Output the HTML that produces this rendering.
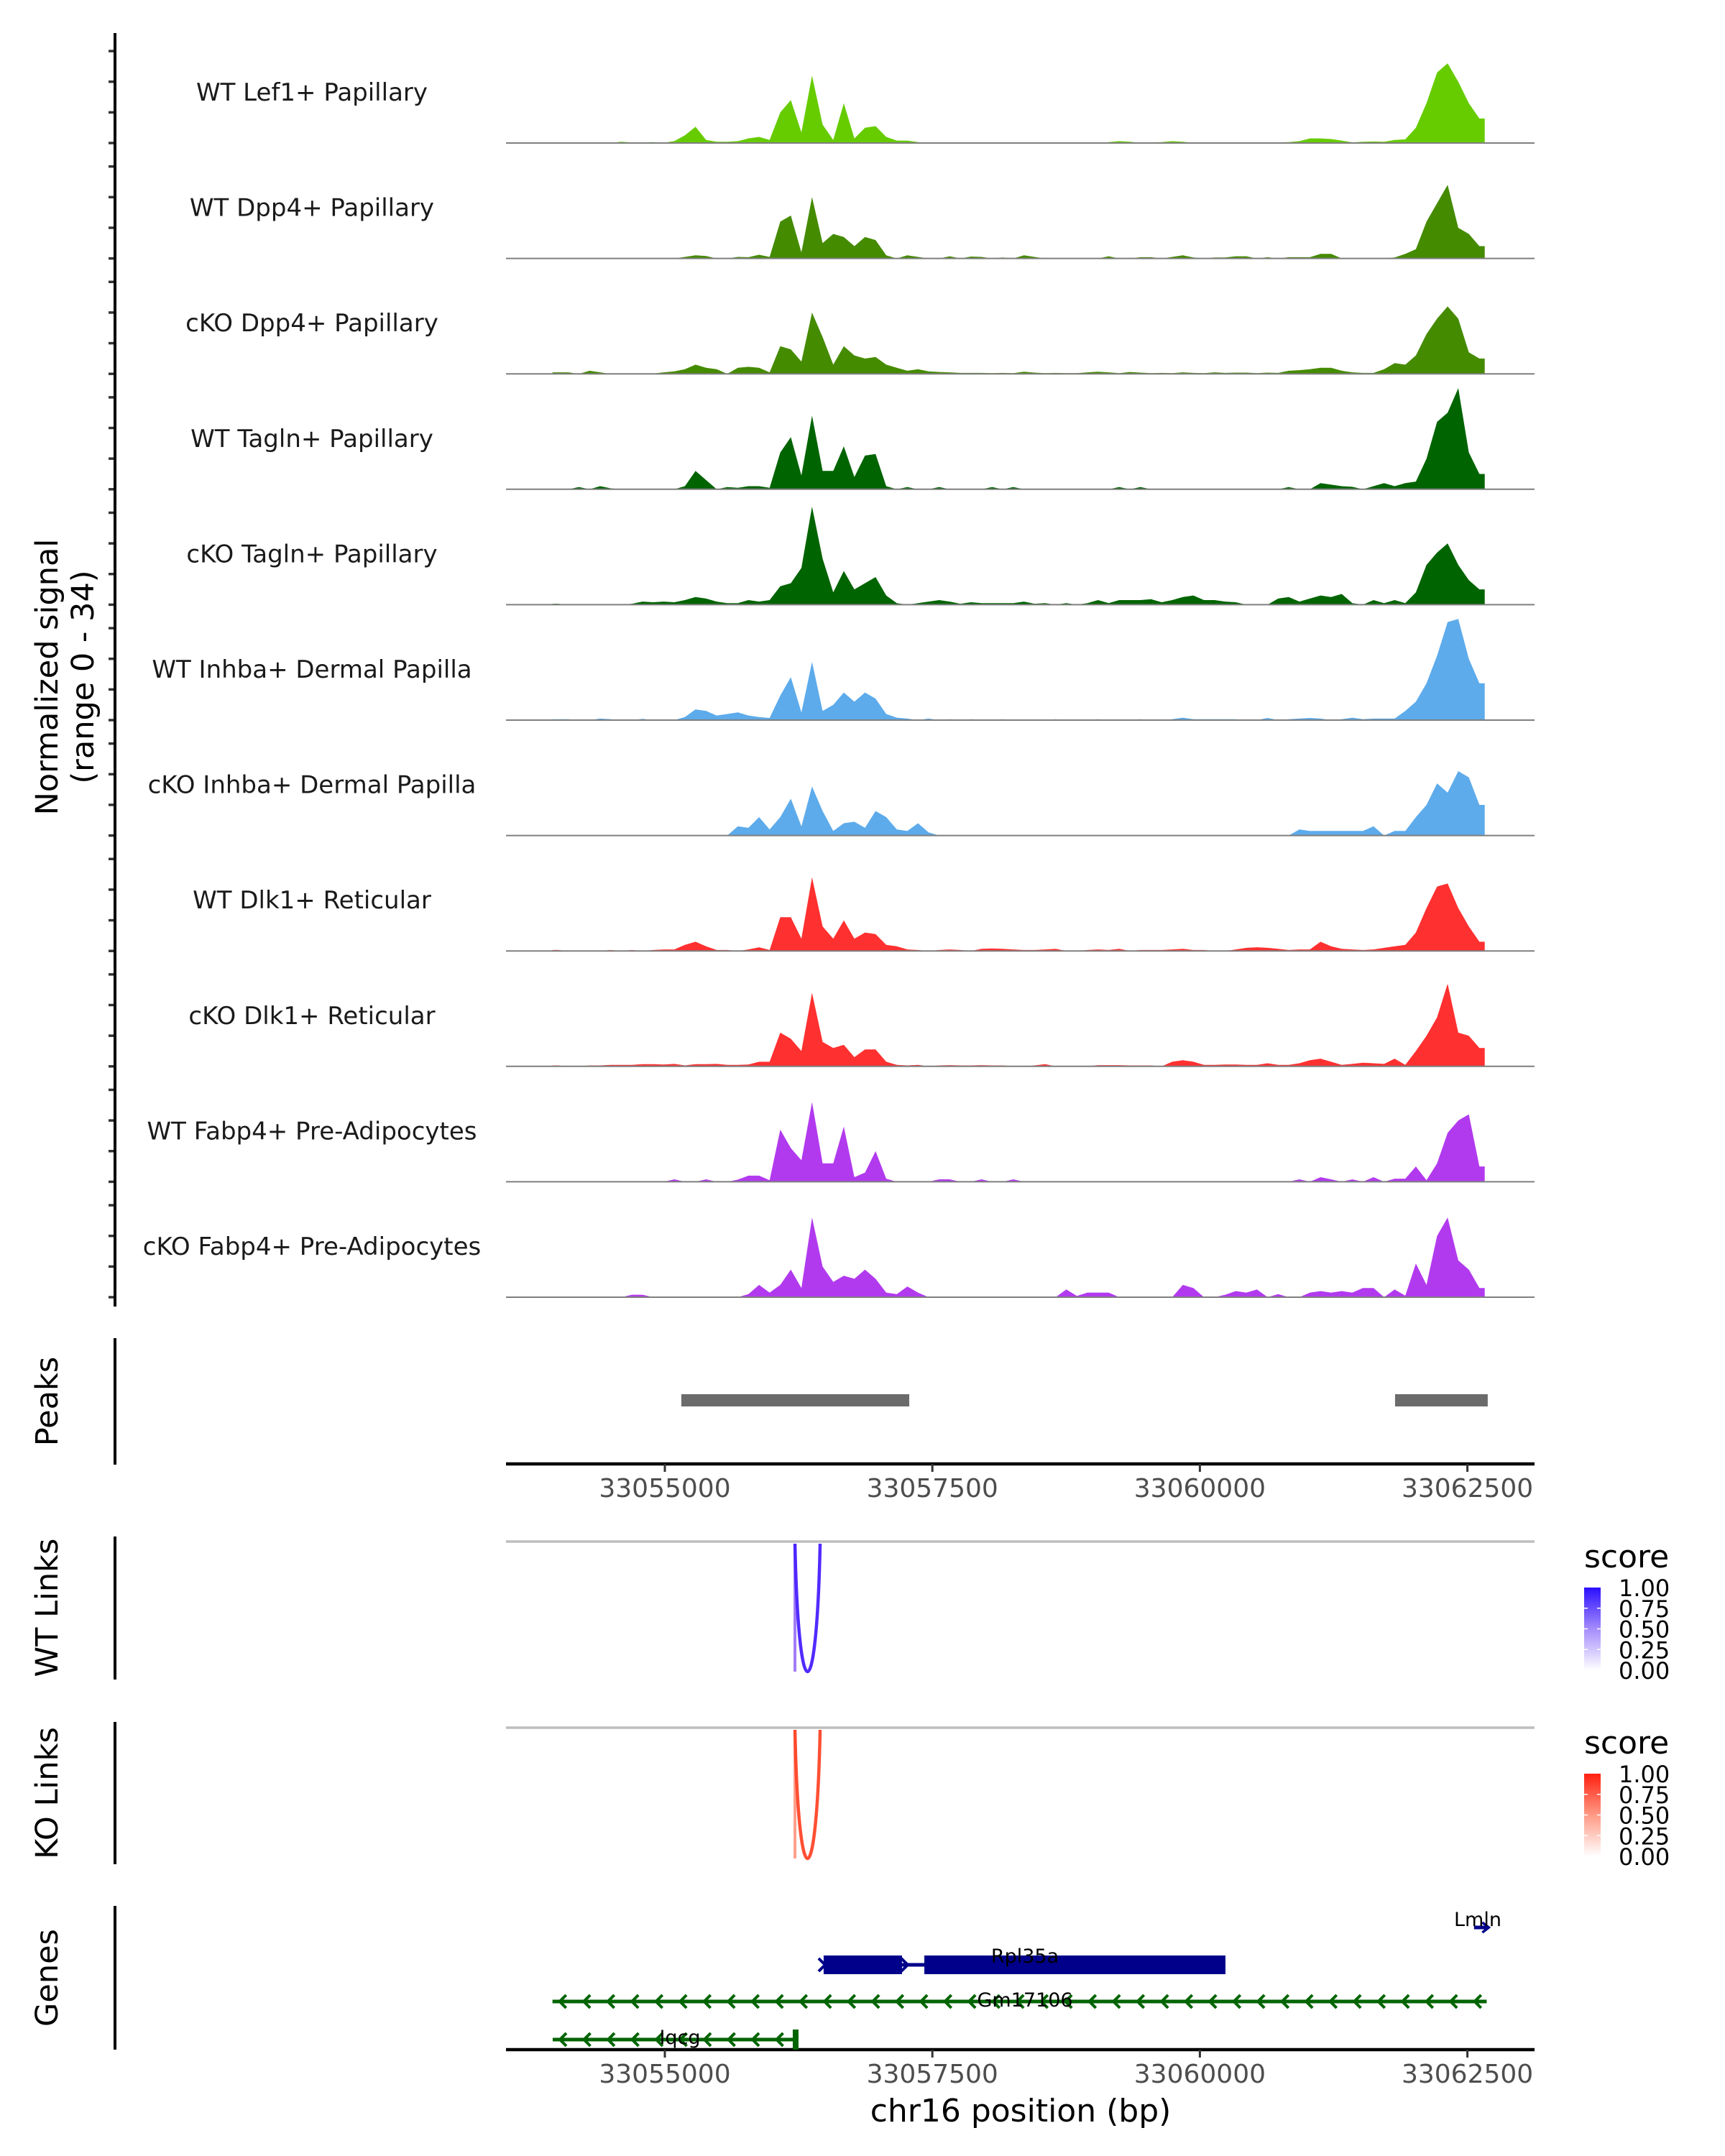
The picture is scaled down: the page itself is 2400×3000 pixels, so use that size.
<!DOCTYPE html>
<html><head><meta charset="utf-8"><style>
html,body{margin:0;padding:0;background:#fff}
svg{display:block;font-family:"DejaVu Sans","Liberation Sans",sans-serif}
</style></head><body>
<svg id="chart" width="2400" height="3000" viewBox="0 0 2400 3000" xmlns="http://www.w3.org/2000/svg">
<g id="tracks"></g>
<g id="axes"></g>
<text transform="translate(80,942) rotate(-90)" text-anchor="middle" font-size="43" fill="#000">Normalized signal</text>
<text transform="translate(130,942) rotate(-90)" text-anchor="middle" font-size="43" fill="#000">(range 0 - 34)</text>
<text transform="translate(80,1950) rotate(-90)" text-anchor="middle" font-size="43" fill="#000">Peaks</text>
<text transform="translate(80,2237) rotate(-90)" text-anchor="middle" font-size="43" fill="#000">WT Links</text>
<text transform="translate(80,2495) rotate(-90)" text-anchor="middle" font-size="43" fill="#000">KO Links</text>
<text transform="translate(80,2752) rotate(-90)" text-anchor="middle" font-size="43" fill="#000">Genes</text>
<text x="1420" y="2952" text-anchor="middle" font-size="44" fill="#000">chr16 position (bp)</text>
<defs>
<linearGradient id="gBlue" x1="0" y1="1" x2="0" y2="0"><stop offset="0" stop-color="#ffffff"/><stop offset="0.5" stop-color="#a48cfb"/><stop offset="1" stop-color="#2b0fff"/></linearGradient>
<linearGradient id="gRed" x1="0" y1="1" x2="0" y2="0"><stop offset="0" stop-color="#ffffff"/><stop offset="0.5" stop-color="#ff9a85"/><stop offset="1" stop-color="#ff2010"/></linearGradient>
</defs>
<g id="legends"></g>
<g id="genes"></g>
</svg>
<script>
// ---- data ----
const trackNames = ["WT Lef1+ Papillary","WT Dpp4+ Papillary","cKO Dpp4+ Papillary","WT Tagln+ Papillary","cKO Tagln+ Papillary","WT Inhba+ Dermal Papilla","cKO Inhba+ Dermal Papilla","WT Dlk1+ Reticular","cKO Dlk1+ Reticular","WT Fabp4+ Pre-Adipocytes","cKO Fabp4+ Pre-Adipocytes"];
const trackColors = ["#66cc00","#458b00","#458b00","#006400","#006400","#5dabeb","#5dabeb","#ff3030","#ff3030","#b23aee","#b23aee"];
const binStart = 33053950;
const binSize = 99;
const sigLef1WT = [.1,.1,.1,.1,.1,.1,.4,.2,.2,.3, .1,.6,2.5,5.3,1,.4,.4,.6,1.5,2, 1,10,14,3.5,22,6,1,13,1.5,5, 5.5,2,.8,.8,.3,.1,.1,.1,.1,.1, .1,.2,.1,.1,.2,.1,.1,.1,.2,.1, .2,.1,.3,.6,.4,.1,.2,.3,.6,.4, .1,.1,.2,.1,.1,.2,.1,.1,.2,.3, .6,1.5,1.5,1.3,.8,.2,.4,.5,.4,1, 1.2,5,13,23,26,20,13,8];
const sigDpp4WT = [0,0,0,0,0,0,0,0,0,0, 0,0,.5,1,.8,0,0,.5,.4,1.2, .5,12,14,2,20,5,8,7,4,7, 6,1,0,1,.5,0,0,.7,0,.6, .5,0,.3,0,1,.5,0,0,0,0, 0,0,.7,0,0,.4,.4,0,.5,1, .3,0,.3,.3,.7,.7,0,.4,0,.4, .4,.4,1.5,1.5,0,0,0,0,0,.3, 1.5,3,12,18,24,10,8,4];
const sigDpp4KO = [.5,.5,0,1,.5,0,0,0,0,.1, .5,.8,1.5,3,2,1.5,0,2,2.3,2, .5,9,8,4,20,12,3,9,6,5, 5.5,3,2,1,1.5,.8,.6,.5,.3,.3, .3,.2,.3,.2,.7,.4,.2,.3,.2,.2, .5,.7,.5,.2,.6,.4,.2,.3,.2,.5, .3,.2,.5,.3,.4,.4,.2,.4,.3,1, 1.2,1.5,2,2,1,.5,.3,.3,1.5,3.5, 3,6,13,18,22,18,7,5];
const sigTaglnWT = [0,0,.7,0,1,.3,0,0,0,0, 0,0,1,6,3,0,.7,.5,1,1, .5,12,17,4.5,24,6,6,14,4,11, 11.5,1,0,.7,0,0,.7,0,0,0, 0,.7,0,.7,0,0,0,0,0,0, 0,0,0,.7,0,.7,0,0,0,0, 0,0,0,0,0,0,0,0,0,.7, 0,0,2,1.5,1,.8,0,1,2,1, 2,2.5,10,22,25,33,12,5];
const sigTaglnKO = [.3,0,0,0,0,0,0,.3,1,.8, 1,.8,1.5,2.5,2,1,.5,.5,1.5,1, 1.5,6,7,12,32,15,4,11,5,7, 9,3,.5,0,.5,1,1.5,1,.3,.8, .5,.5,.5,.5,1,.3,.5,0,.5,0, .5,1.5,.5,1.5,1.5,1.5,1.8,.8,1.5,2.5, 3,1.5,1.5,1,.8,0,0,0,2,2.5, 1,2,3,2.5,3.5,.5,0,1.5,.5,1.5, .5,4,13,17,20,13,8,5];
const sigInhbaWT = [.3,.3,0,0,.5,.3,0,0,.4,0, 0,0,1,3.5,3,1.5,2,2.5,1.5,1, .7,8,14,2.5,19,3,5,9,6,9, 7,2,.8,.5,0,.5,0,.3,0,.3, 0,0,.3,0,0,0,0,.3,0,0, 0,.3,0,0,0,.3,0,0,.3,.8, .3,.3,.3,.3,.3,0,0,.7,0,.3, .5,.7,.5,0,.3,.8,.3,.5,.5,.5, 3,6,12,21,32,33,20,12];
const sigInhbaKO = [0,0,0,0,0,0,0,0,0,0, 0,0,0,0,0,0,0,3,2.5,6, 2,6,12,3,16,8,1.5,4,4.5,2.5, 8,6,2,1.5,4,1,0,0,0,0, 0,0,0,0,0,0,0,0,0,0, 0,0,0,0,0,0,0,0,0,0, 0,0,0,0,0,0,0,0,0,0, 2,1.5,1.5,1.5,1.5,1.5,1.5,3,0,1.5, 1.5,6,10,17,14,21,19,10];
const sigDlk1WT = [.3,0,0,0,0,.3,0,.3,0,.3, .5,.5,2,3,1.5,.3,.3,0,.5,1.2, .3,11,11,4,24,8,4,10,4,6, 5.5,2,1.5,.5,.3,0,.3,.5,.3,0, .7,.8,.7,.5,.3,.3,.5,.7,0,0, .3,.5,.3,.7,0,.3,.3,.3,.5,.7, .3,.3,0,0,.5,1,1.2,1,.7,.3, .5,.5,3,1.5,.7,.5,.3,.5,1,1.5, 2,6,14,21,22,14,8,3];
const sigDlk1KO = [.3,0,0,.3,.3,.5,.5,.5,.7,.7, .6,.8,.3,.7,.7,.8,.5,.5,.6,1.5, 1.5,11,9,5,24,8,6,7,3,5.5, 5.5,1.5,.5,.3,.5,0,.3,.4,.3,.3, .4,.3,.3,0,0,.3,.7,0,0,0, 0,.4,.4,.4,.3,.3,.3,0,1.5,2, 1.5,.5,.5,.6,.6,.5,.5,1,.5,.5, 1,2,2.5,1.5,.5,.8,1.2,1,.8,2.5, .5,5,10,16,27,11,10,6];
const sigFabp4WT = [0,0,0,0,0,0,0,0,0,0, 0,.8,0,0,.8,0,0,.7,2,2, .5,17,11,7,26,6,6,18,1.5,3, 10,1,0,0,0,0,.8,.8,0,0, .8,0,0,.8,0,0,0,0,0,0, 0,0,0,0,0,0,0,0,0,0, 0,0,0,0,0,0,0,0,0,0, .8,0,1.5,.8,0,.8,0,1.5,0,1, 1,5,.5,6,16,20,22,5];
const sigFabp4KO = [0,0,0,0,0,0,0,.8,.8,0, 0,0,0,0,0,0,0,0,1,4, 1.5,4,9,3,26,10,5,7,6,9, 6,1.5,1,3.5,1.5,0,0,0,0,0, 0,0,0,0,0,0,0,0,2.5,.4, 1.5,1.5,1.5,0,0,0,0,0,0,4, 3,0,0,.8,2,1.5,2.5,0,1,0, 0,1.5,2,1.5,2,1.5,3,3,0,2.5, .5,11,4,20,26,12,9,3];
const signals = [sigLef1WT,sigDpp4WT,sigDpp4KO,sigTaglnWT,sigTaglnKO,sigInhbaWT,sigInhbaKO,sigDlk1WT,sigDlk1KO,sigFabp4WT,sigFabp4KO];
const yMax = 34;
const signalTicks = [0,10,20,30];
const xTicks = [33055000,33057500,33060000,33062500];
const xTickLabels = ["33055000","33057500","33060000","33062500"];
const peakStarts = [33055154,33061824];
const peakEnds = [33057284,33062690];
const wtLinkStarts = [33056216];
const wtLinkEnds = [33056451];
const wtLinkScores = [0.9];
const koLinkStarts = [33056216];
const koLinkEnds = [33056451];
const koLinkScores = [0.85];
const legendTicks = [0,0.25,0.5,0.75,1];
const legendTickLabels = ["0.00","0.25","0.50","0.75","1.00"];
const geneNames = ["Lmln","Rpl35a","Gm17106","Iqcg"];
const geneStarts = [33062562,33056484,33053950,33053952];
const geneEnds = [33062700,33060239,33062680,33056229];
const geneStrands = ["+","+","-","-"];
const rplExonStarts = [33056484,33057425];
const rplExonEnds = [33057216,33060239];

// ---- scales ----
const NS = "http://www.w3.org/2000/svg";
function xs(bp){ return 925 + (bp - 33055000) * 372.2 / 2500; }
const trackBase0 = 199, trackStep = 160.6, trackH = 145;
function ys(track, v){ return trackBase0 + track*trackStep - v/yMax*trackH; }
function mk(tag, attrs, parent){ const e=document.createElementNS(NS,tag); for(const k in attrs) e.setAttribute(k,attrs[k]); parent.appendChild(e); return e; }

const tracks = document.getElementById('tracks');
const axes = document.getElementById('axes');
const legends = document.getElementById('legends');
const genes = document.getElementById('genes');
const xL = 704, xR = 2135;

signals.forEach((arr, t) => {
  const base = ys(t, 0);
  const n = arr.length;
  const endBp = binStart + n*binSize;
  let d = `M${xs(binStart).toFixed(1)},${base} L${xs(binStart).toFixed(1)},${ys(t,arr[0]).toFixed(1)}`;
  for (let i=0;i<n;i++){ d += ` L${xs(binStart + i*binSize + binSize/2).toFixed(1)},${ys(t,arr[i]).toFixed(1)}`; }
  d += ` L${xs(endBp).toFixed(1)},${ys(t,arr[n-1]).toFixed(1)} L${xs(endBp).toFixed(1)},${base} Z`;
  const p = mk('path',{d:d, fill:trackColors[t]}, tracks);
  
  
  const bl = mk('line',{x1:xL,x2:xR,y1:base,y2:base,stroke:'#7f7f7f','stroke-width':2}, tracks);
  
  
  const lb = mk('text',{x:434,y:base-59,'text-anchor':'middle','font-size':34,fill:'#1a1a1a'}, tracks);
  lb.textContent = trackNames[t];
  
  
  signalTicks.forEach(v => {
    const tk = mk('line',{x1:151,x2:160,y1:ys(t,v),y2:ys(t,v),stroke:'#333','stroke-width':3.5}, axes);
    
    
  });
});
[[46,1818,'signal-axis-line'],[1862,2038,'peaks-axis-line'],[2138,2337,'wt-links-axis-line'],[2396,2594,'ko-links-axis-line'],[2652,2852,'genes-axis-line']].forEach(s=>{
  const l = mk('line',{x1:160,x2:160,y1:s[0],y2:s[1],stroke:'#000','stroke-width':4}, axes);
  
  
});
peakStarts.forEach((s,i)=>{
  const r = mk('rect',{x:xs(s),y:1940,width:xs(peakEnds[i])-xs(s),height:17,fill:'#6b6b6b'}, axes);
  
  
});
[2037,2852].forEach((ay,k)=>{
  const l = mk('line',{x1:xL,x2:xR,y1:ay,y2:ay,stroke:'#000','stroke-width':4.5}, axes);
  
  
  xTicks.forEach((v,i)=>{
    const tk = mk('line',{x1:xs(v),x2:xs(v),y1:ay,y2:ay+11,stroke:'#333','stroke-width':3}, axes);
    
    
    const tl = mk('text',{x:xs(v),y:ay+46,'text-anchor':'middle','font-size':36,fill:'#4d4d4d'}, axes);
    tl.textContent = xTickLabels[i];
    
    
  });
});
function drawLinks(top, bottom, starts, ends, scores, dark, light, grad, tag){
  const gl = mk('line',{x1:xL,x2:xR,y1:top,y2:top,stroke:'#bebebe','stroke-width':3.5}, axes);
  
  
  starts.forEach((s,i)=>{
    const x1=xs(s), x2=xs(ends[i]);
    const cy = (bottom - 0.25*(top+3))/0.75;
    const v = mk('line',{x1:x1,x2:x1,y1:top+3,y2:bottom,stroke:light,'stroke-width':4}, axes);
    
    
    const p = mk('path',{d:`M${x1},${top+3} C${x1+5},${cy} ${x2-5},${cy} ${x2},${top+3}`,fill:'none',stroke:dark,'stroke-width':4.5,'stroke-opacity':0.6+0.4*scores[i]}, axes);
    
    
  });
  const ly = top + 36;
  const t = mk('text',{x:2204,y:ly,'font-size':44,fill:'#000'}, legends);
  t.textContent = 'score';
  
  
  const b0 = top+64, b1 = top+179;
  const r = mk('rect',{x:2204,y:b0,width:23,height:b1-b0,fill:`url(#${grad})`}, legends);
  
  
  legendTicks.forEach((v,i)=>{
    const yy = b1 - v*(b1-b0);
    if(v>0 && v<1){
      [[2204,2209],[2222,2227]].forEach(xx=>{
        const tk = mk('line',{x1:xx[0],x2:xx[1],y1:yy,y2:yy,stroke:'#fff','stroke-width':1.5}, legends);
        
        
      });
    }
    const tl = mk('text',{x:2252,y:yy+12,'font-size':32,fill:'#000'}, legends);
    tl.textContent = legendTickLabels[i];
    
    
  });
}
drawLinks(2145, 2326, wtLinkStarts, wtLinkEnds, wtLinkScores, '#4a22ff', '#a07cf6', 'gBlue', 'wt-links');
drawLinks(2404, 2586, koLinkStarts, koLinkEnds, koLinkScores, '#ff4426', '#ff9f8c', 'gRed', 'ko-links');

function chevrons(x1, x2, y, dir, color, step){
  for(let x=x1+10; x<x2-6; x+=step){
    const d = dir==='-' ? `M${x+9},${y-9} L${x},${y} L${x+9},${y+9}` : `M${x-9},${y-9} L${x},${y} L${x-9},${y+9}`;
    const c = mk('path',{d:d,fill:'none',stroke:color,'stroke-width':4}, genes);
    
    
  }
}
const geneY = [2682, 2734, 2785, 2838];
const geneCol = ["#00008b","#00008b","#006400","#006400"];
geneNames.forEach((g,i)=>{
  const x1 = xs(geneStarts[i]), x2 = xs(geneEnds[i]), y = geneY[i];
  const l = mk('line',{x1:x1,x2:x2,y1:y,y2:y,stroke:geneCol[i],'stroke-width':5}, genes);
  
  
  if(g==='Lmln'){
    const a = mk('path',{d:`M${x2-9},${y-7} L${x2},${y} L${x2-9},${y+7}`,fill:'none',stroke:geneCol[i],'stroke-width':3.5}, genes);
    
    
  } else if(g==='Rpl35a'){
    rplExonStarts.forEach((s,k)=>{
      const r = mk('rect',{x:xs(s),y:y-13,width:xs(rplExonEnds[k])-xs(s),height:26,fill:'#00008b'}, genes);
      
      
    });
    chevrons(x1-8, x1+20, y, '+', '#00008b', 30);
    chevrons(xs(rplExonEnds[0])-2, xs(rplExonStarts[1])+6, y, '+', '#00008b', 30);
  } else {
    chevrons(x1, x2, y, '-', geneCol[i], 33.5);
    if(g==='Iqcg'){
      const r = mk('rect',{x:x2-5,y:y-14,width:8,height:28,fill:'#006400'}, genes);
      
      
    }
  }
});
const labelPos = [[2066,2680],[1426,2731],[1426,2792],[946,2844]];
geneNames.forEach((g,i)=>{
  const t = mk('text',{x:labelPos[i][0]-(i===0?10:0),y:labelPos[i][1],'text-anchor':'middle','font-size':27,fill:'#000'}, genes);
  t.textContent = g;
  
  
});
</script>
</body></html>
